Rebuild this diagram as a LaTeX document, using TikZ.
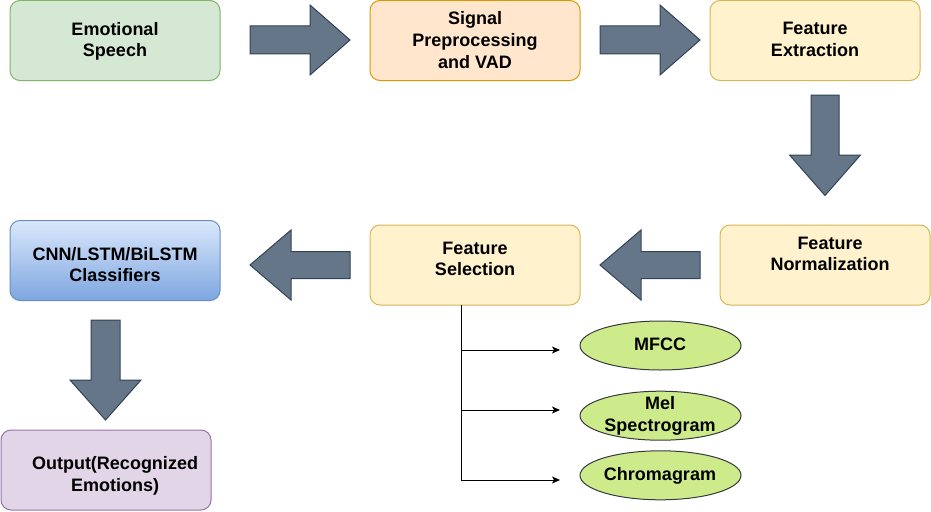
\documentclass[tikz,border=0pt]{standalone}
\usepackage{fontspec}
\setmainfont{Liberation Sans}
\usetikzlibrary{arrows.meta,shapes.geometric}
\definecolor{esfill}{HTML}{D5E8D4}\definecolor{esdraw}{HTML}{82B366}
\definecolor{spfill}{HTML}{FFE6CC}\definecolor{spdraw}{HTML}{D79B00}
\definecolor{ftfill}{HTML}{FFF2CC}\definecolor{ftdraw}{HTML}{D6B656}
\definecolor{cltop}{HTML}{DAE8FC}\definecolor{clbot}{HTML}{7EA6E0}\definecolor{cldraw}{HTML}{6C8EBF}
\definecolor{oufill}{HTML}{E1D5E7}\definecolor{oudraw}{HTML}{9673A6}
\definecolor{bafill}{HTML}{647687}\definecolor{badraw}{HTML}{314354}
\definecolor{elfill}{HTML}{CDEB8B}\definecolor{eldraw}{HTML}{36393D}
\tikzset{
  box/.style={rectangle, rounded corners=10pt, line width=1pt, minimum width=210pt, minimum height=80pt, inner sep=0pt},
  lbl/.style={align=center, inner sep=0pt, font=\fontsize{18}{21.6}\selectfont\bfseries},
  feat/.style={ellipse, fill=elfill, draw=eldraw, line width=1pt, minimum width=161pt, minimum height=49pt, inner sep=0pt},
  blockarrow/.style={fill=bafill, draw=badraw, line width=1pt, line join=miter},
  conn/.style={draw=black, line width=1pt, -{Stealth[length=8pt,width=7pt,inset=2pt]}}
}
\begin{document}
\begin{tikzpicture}[x=1pt,y=-1pt]
\useasboundingbox (0,0) rectangle (931,511);
% boxes
\node[box, fill=esfill, draw=esdraw] (es) at (115,40.5) {};
\node[box, fill=spfill, draw=spdraw] (sp) at (475,40.5) {};
\node[box, fill=ftfill, draw=ftdraw] (fe) at (815,40.5) {};
\node[box, fill=ftfill, draw=ftdraw] (fn) at (825,265) {};
\node[box, fill=ftfill, draw=ftdraw] (fs) at (475,265) {};
\node[box, top color=cltop, bottom color=clbot, draw=cldraw] (cl) at (115,260.5) {};
\node[box, fill=oufill, draw=oudraw] (ou) at (106,470) {};
% labels
\node[lbl] (esT) at (115,41.5) {Emotional\\Speech};
\node[lbl] (spT) at (475,40) {Signal\\Preprocessing\\and VAD};
\node[lbl] (feT) at (815,39.5) {Feature\\Extraction};
\node[lbl] (fnT) at (830,254) {Feature\\Normalization};
\node[lbl] (fsT) at (475,259) {Feature\\Selection};
\node[lbl] (clT) at (115,264.5) {CNN/LSTM/BiLSTM\\Classifiers};
\node[lbl] (ouT) at (115,476) {Output(Recognized\\Emotions)};
% features
\node[feat] (mf) at (660.5,345.5) {};
\node[feat] (ms) at (660.5,415.7) {};
\node[feat] (ch) at (660.5,475.3) {};
\node[lbl] (mfT) at (660,344) {MFCC};
\node[lbl] (msT) at (660,416) {Mel\\Spectrogram};
\node[lbl] (chT) at (660,475.8) {Chromagram};
% block arrows
\path[blockarrow] (250,26)--(310,26)--(310,5)--(350,40)--(310,75)--(310,54)--(250,54)--cycle;
\path[blockarrow] (600,26)--(660,26)--(660,5)--(700,40)--(660,75)--(660,54)--(600,54)--cycle;
\path[blockarrow] (811,95)--(839,95)--(839,155)--(860.5,155)--(825,195.5)--(789.5,155)--(811,155)--cycle;
\path[blockarrow] (700,251.5)--(641,251.5)--(641,230)--(600,265)--(641,300)--(641,278.5)--(700,278.5)--cycle;
\path[blockarrow] (350,251.5)--(291,251.5)--(291,230)--(250,265)--(291,300)--(291,278.5)--(350,278.5)--cycle;
\path[blockarrow] (91,320)--(120,320)--(120,380)--(141,380)--(105.5,420)--(70,380)--(91,380)--cycle;
% connectors
\coordinate (trunk) at (461,305);
\coordinate (e1) at (560,350);
\coordinate (e2) at (560,410);
\coordinate (e3) at (560,480);
\draw[conn] (trunk) |- (e1);
\draw[conn] (trunk) |- (e2);
\draw[conn] (trunk) |- (e3);
\end{tikzpicture}
\end{document}
